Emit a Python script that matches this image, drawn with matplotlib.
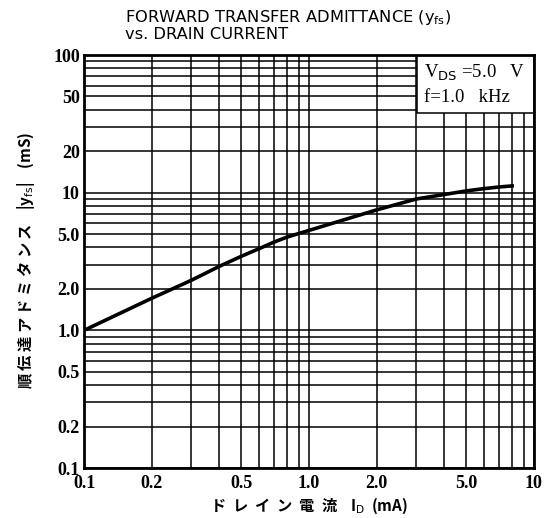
import matplotlib
matplotlib.use("Agg")
import matplotlib.pyplot as plt
from matplotlib.ticker import FixedLocator, NullFormatter
from matplotlib.patches import Rectangle

# Data
drain_current_mA = [0.1, 0.2, 0.3, 0.4, 0.5, 0.6, 0.7, 0.8, 1.0, 2.0, 3.0, 4.0, 5.0, 6.0, 7.0, 8.0]
yfs_mS = [1.0, 1.71, 2.31, 2.92, 3.45, 3.92, 4.38, 4.76, 5.32, 7.5, 9.0, 9.7, 10.3, 10.7, 11.0, 11.2]

x_ticks = [0.1, 0.2, 0.5, 1.0, 2.0, 5.0, 10]
x_tick_labels = ["0.1", "0.2", "0.5", "1.0", "2.0", "5.0", "10"]
y_ticks = [0.1, 0.2, 0.5, 1.0, 2.0, 5.0, 10, 20, 50, 100]
y_tick_labels = ["0.1", "0.2", "0.5", "1.0", "2.0", "5.0", "10", "20", "50", "100"]

fig = plt.figure(figsize=(5.51, 5.18), dpi=100)
ax = fig.add_axes([0.1525, 0.0965, 0.8165, 0.7973])
ax.set_xscale("log")
ax.set_yscale("log")
ax.set_xlim(0.1, 10)
ax.set_ylim(0.1, 100)

ax.xaxis.set_major_locator(FixedLocator(x_ticks))
ax.yaxis.set_major_locator(FixedLocator(y_ticks))
minor_x = [m * d for d in (0.1, 1.0) for m in range(2, 10)]
minor_y = [m * d for d in (0.1, 1.0, 10.0) for m in range(2, 10)]
ax.xaxis.set_minor_locator(FixedLocator(minor_x))
ax.yaxis.set_minor_locator(FixedLocator(minor_y))
ax.xaxis.set_minor_formatter(NullFormatter())
ax.yaxis.set_minor_formatter(NullFormatter())
ax.grid(True, which="both", color="black", linewidth=1.1)
ax.set_axisbelow(True)

tick_font = dict(family="Liberation Serif", weight="bold", size=13)
ax.set_xticklabels(x_tick_labels, fontdict=tick_font)
ax.set_yticklabels(y_tick_labels, fontdict=tick_font)
ax.tick_params(axis="x", which="both", length=0, pad=5)
ax.tick_params(axis="y", which="both", length=0, pad=3)

for s in ax.spines.values():
    s.set_linewidth(2.0)
    s.set_zorder(5)

ax.plot(drain_current_mA, yfs_mS, color="black", linewidth=2.6, zorder=3)

# condition box
ax.add_patch(Rectangle((0.74, 0.86), 0.26, 0.14, transform=ax.transAxes,
                       facecolor="white", edgecolor="black", linewidth=1.1, zorder=4))
ax.text(0.756, 0.958, "V$_{\\mathrm{DS}}$ =5.0   V", transform=ax.transAxes,
        ha="left", va="center", family="Liberation Serif", fontsize=13.5, zorder=6)
ax.text(0.756, 0.897, "f=1.0   kHz", transform=ax.transAxes,
        ha="left", va="center", family="Liberation Serif", fontsize=13.5, zorder=6)

fig.text(0.227, 0.985, "FORWARD TRANSFER ADMITTANCE (y$_{\\mathrm{fs}}$)\nvs. DRAIN CURRENT",
         ha="left", va="top", family="DejaVu Sans", fontsize=11.7, linespacing=1.05)

jp = ["Noto Sans CJK JP", "DejaVu Sans"]
fig.text(0.561, 0.023, "ド  レ  イ  ン  電  流    I$_{\\mathrm{D}}$  (mA)", family=jp, fontsize=11,
         weight="bold", ha="center", va="center")
fig.text(0.047, 0.497, "順 伝 達 ア ド ミ タ ン ス    |y$_{\\mathrm{fs}}$|    (mS)", family=jp, fontsize=11,
         weight="bold", ha="center", va="center", rotation=90)

fig.savefig("out.png", dpi=100)
